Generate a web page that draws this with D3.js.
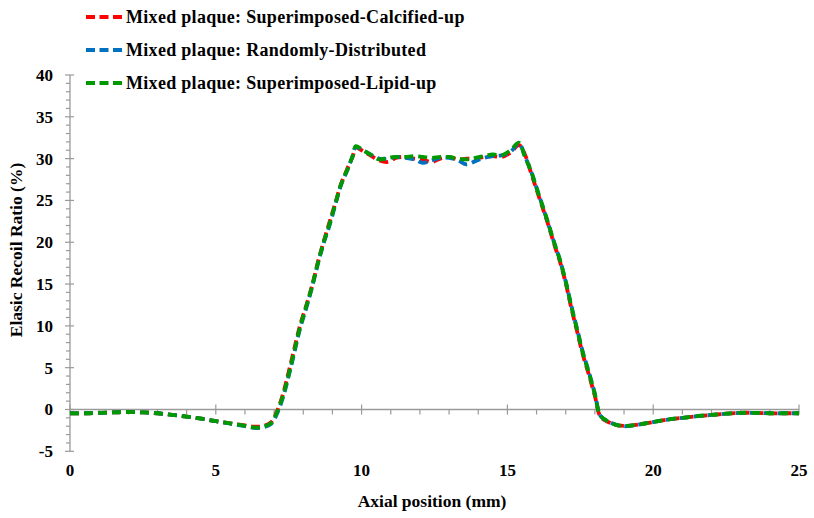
<!DOCTYPE html>
<html>
<head>
<meta charset="utf-8">
<script src="https://cdnjs.cloudflare.com/ajax/libs/d3/7.8.5/d3.min.js"></script>
<style>
    body { margin: 0; background: #fff; }
    text { font-family: "Liberation Serif", "Times New Roman", serif; font-weight: bold; fill: #000; }
</style>
</head>
<body>
<div id="chart"></div>
<script>
// axial positions (mm), shared by the three runs
var positions = [
    0, 0.5, 1, 1.5, 2, 2.5, 3, 3.5, 4, 4.5, 5, 5.5, 6, 6.3, 6.6, 6.9,
    7.1, 7.3, 7.5, 7.7, 7.9, 8.1, 8.3, 8.5, 8.7, 8.9, 9.1, 9.3, 9.5, 9.7, 9.8,
    10.0, 10.3, 10.6, 10.9, 11.2, 11.5, 11.8, 12.1, 12.4, 12.7, 13.0, 13.3, 13.6, 13.9,
    14.2, 14.5, 14.8, 15.1, 15.4, 15.6, 15.8, 16.0, 16.2, 16.4, 16.6, 16.8, 17.0, 17.2,
    17.4, 17.6, 17.8, 18.0, 18.2, 18.5, 18.8, 19.1, 19.5, 20, 20.5, 21, 21.5, 22,
    22.5, 23, 23.5, 24, 24.5, 25
];

var calcifiedUp = [
    -0.45, -0.45, -0.4, -0.35, -0.3, -0.35, -0.45, -0.65, -0.85, -1.1, -1.4, -1.65, -1.9, -2.05, -2.0, -1.5,
    -0.2, 1.8, 4.5, 7.4, 10.2, 12.4, 14.8, 17.6, 20.1, 22.4, 24.7, 27.0, 28.7, 30.3, 31.3,
    31.0, 30.4, 29.8, 29.6, 30.1, 30.2, 30.0, 29.9, 29.6, 30.0, 30.2, 29.9, 30.0, 30.0,
    30.2, 30.3, 30.2, 30.7, 31.6, 30.5, 28.4, 26.3, 24.2, 22.1, 19.8, 17.7, 15.1, 12.0,
    9.2, 6.4, 4.1, 1.6, -0.9, -1.55, -1.9, -1.95, -1.8, -1.5, -1.2, -1.0, -0.8, -0.65,
    -0.5, -0.4, -0.4, -0.45, -0.45, -0.45
];

var randomlyDistributed = [
    -0.45, -0.45, -0.4, -0.35, -0.3, -0.35, -0.45, -0.65, -0.85, -1.1, -1.4, -1.7, -2.0, -2.2, -2.15, -1.7,
    -0.5, 1.4, 4.0, 6.9, 9.8, 12.1, 14.6, 17.4, 19.9, 22.0, 24.5, 26.9, 28.5, 30.4, 31.4,
    31.1, 30.5, 30.0, 30.0, 30.2, 30.1, 29.9, 29.5, 29.8, 30.1, 30.1, 29.8, 29.3, 29.7,
    30.1, 30.3, 30.4, 30.8, 31.8, 30.3, 28.6, 26.5, 24.4, 22.2, 20.0, 17.9, 15.3, 12.3,
    9.5, 6.7, 4.4, 1.9, -0.8, -1.5, -1.9, -2.0, -1.8, -1.5, -1.2, -1.0, -0.8, -0.65,
    -0.5, -0.4, -0.4, -0.45, -0.45, -0.45
];

var lipidUp = [
    -0.45, -0.45, -0.4, -0.35, -0.3, -0.35, -0.45, -0.65, -0.85, -1.1, -1.4, -1.65, -1.95, -2.15, -2.1, -1.6,
    -0.3, 1.6, 4.2, 7.1, 10.0, 12.3, 14.7, 17.5, 20.0, 22.2, 24.6, 27.0, 28.6, 30.4, 31.5,
    31.1, 30.5, 29.9, 30.1, 30.2, 30.2, 30.3, 30.2, 30.1, 30.2, 30.2, 30.0, 29.9, 30.1,
    30.3, 30.5, 30.4, 31.0, 31.9, 30.2, 28.6, 26.5, 24.4, 22.3, 20.0, 17.9, 15.3, 12.2,
    9.4, 6.6, 4.3, 1.8, -0.8, -1.5, -1.9, -1.95, -1.8, -1.5, -1.2, -1.0, -0.8, -0.65,
    -0.5, -0.4, -0.4, -0.45, -0.45, -0.45
];

var seriesNames  = [
    'Mixed plaque: Superimposed-Calcified-up',
    'Mixed plaque: Randomly-Distributed',
    'Mixed plaque: Superimposed-Lipid-up'
];
var seriesValues = [calcifiedUp, randomlyDistributed, lipidUp];
var seriesColors = ['#ff0000', '#0070c0', '#009a00'];

var xTicks = [0, 5, 10, 15, 20, 25];
var yTicks = [-5, 0, 5, 10, 15, 20, 25, 30, 35, 40];

var width  = 814;
var height = 518;
var axisColor = '#9a9a9a';

var svg = d3.select('#chart').append('svg')
    .attr('width',  width)
    .attr('height', height)
;

var x = d3.scaleLinear().domain([0, 25]).range([70, 799]);
var y = d3.scaleLinear().domain([-5, 40]).range([451.3, 75]);

// y axis: minor ticks each unit on the left, major ticks crossing the line
var yAxis = svg.append('g').attr('class', 'y-axis');
yAxis.append('line')
    .attr('x1', x(0)).attr('x2', x(0))
    .attr('y1', y(-5)).attr('y2', y(40))
    .attr('stroke', axisColor).attr('stroke-width', 1.3)
;
yAxis.selectAll('line.minor')
    .data(d3.range(-5, 41, 1))
    .enter().append('line')
    .attr('class', 'minor')
    .attr('x1', d => yTicks.indexOf(d) >= 0 ? x(0) - 5 : x(0) - 4)
    .attr('x2', d => yTicks.indexOf(d) >= 0 ? x(0) + 4 : x(0))
    .attr('y1', d => y(d)).attr('y2', d => y(d))
    .attr('stroke', axisColor).attr('stroke-width', 1.2)
;
yAxis.selectAll('text')
    .data(yTicks)
    .enter().append('text')
    .attr('x', 53)
    .attr('y', d => y(d))
    .attr('dy', '0.35em')
    .attr('text-anchor', 'end')
    .attr('font-size', 17)
    .text(d => d)
;

// x axis sits on y = 0
var xAxis = svg.append('g').attr('class', 'x-axis');
xAxis.append('line')
    .attr('x1', x(0)).attr('x2', x(25))
    .attr('y1', y(0)).attr('y2', y(0))
    .attr('stroke', axisColor).attr('stroke-width', 1.3)
;
xAxis.selectAll('line.minor')
    .data(d3.range(0, 26, 1))
    .enter().append('line')
    .attr('class', 'minor')
    .attr('x1', d => x(d)).attr('x2', d => x(d))
    .attr('y1', d => xTicks.indexOf(d) >= 0 ? y(0) - 5 : y(0))
    .attr('y2', y(0) + 5)
    .attr('stroke', axisColor).attr('stroke-width', 1.2)
;
xAxis.selectAll('text')
    .data(xTicks)
    .enter().append('text')
    .attr('x', d => x(d))
    .attr('y', 476)
    .attr('text-anchor', 'middle')
    .attr('font-size', 17)
    .text(d => d)
;

svg.append('text')
    .attr('x', 432)
    .attr('y', 507)
    .attr('text-anchor', 'middle')
    .attr('font-size', 17.5)
    .text('Axial position (mm)')
;

svg.append('text')
    .attr('transform', 'translate(22, 250) rotate(-90)')
    .attr('text-anchor', 'middle')
    .attr('font-size', 17.5)
    .text('Elasic Recoil Ratio (%)')
;

// curves
var line = d3.line()
    .x((d, i) => x(positions[i]))
    .y(d => y(d))
    .curve(d3.curveCatmullRom)
;

svg.append('g').attr('class', 'series')
    .selectAll('path')
    .data(seriesValues)
    .enter().append('path')
    .attr('d', line)
    .attr('fill', 'none')
    .attr('stroke', (d, i) => seriesColors[i])
    .attr('stroke-width', 3.8)
    .attr('stroke-dasharray', '9,5')
;

// legend
var legend = svg.append('g').attr('class', 'legend')
    .selectAll('g')
    .data(seriesNames)
    .enter().append('g')
    .attr('transform', (d, i) => 'translate(86, ' + (17 + i * 33) + ')')
;
legend.append('line')
    .attr('x1', 0).attr('x2', 38)
    .attr('y1', 0).attr('y2', 0)
    .attr('stroke', (d, i) => seriesColors[i])
    .attr('stroke-width', 3.8)
    .attr('stroke-dasharray', '9,4.5')
;
legend.append('text')
    .attr('x', 40)
    .attr('dy', '0.35em')
    .attr('font-size', 18)
    .attr('letter-spacing', 0.3)
    .text(d => d)
;
</script>
</body>
</html>
